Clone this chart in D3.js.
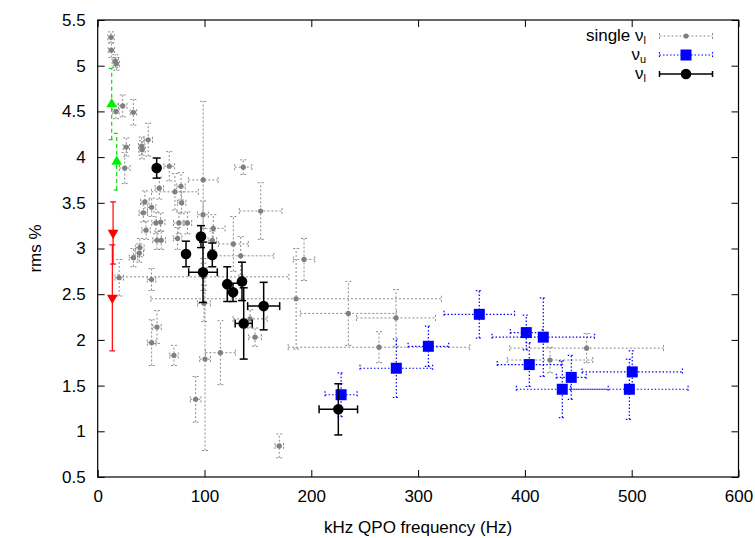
<!DOCTYPE html>
<html>
<head>
<meta charset="utf-8">
<title></title>
<style>
    body { margin: 0; background: #fff; }
    text { font-family: 'Liberation Sans', Arial, sans-serif; }
</style>
</head>
<body>
<div id="container"></div>

<script src="https://d3js.org/d3.v7.min.js" type="text/javascript"></script>
<script type="text/javascript">
    // [frequency Hz, rms %, freq error, rms error]
    const singleL = [
        [12.5, 5.31, 3, 0.06], [12.8, 5.17, 3, 0.08], [16.5, 5.05, 3, 0.07], [17.5, 5.02, 3, 0.07],
        [23.4, 4.56, 4, 0.12], [17.1, 4.50, 3, 0.08], [33.4, 4.49, 3, 0.14], [47.3, 4.19, 4, 0.18],
        [41.2, 4.12, 3, 0.10], [41.5, 4.08, 3, 0.10], [26.8, 4.11, 3, 0.10], [25.3, 3.88, 5, 0.17],
        [67.0, 3.90, 5, 0.16], [98.8, 3.75, 14, 0.86], [136.3, 3.89, 8, 0.08], [78.0, 3.68, 4, 0.15],
        [57.7, 3.66, 4, 0.12], [72.3, 3.62, 22, 0.20], [152.6, 3.41, 20, 0.31], [44.2, 3.51, 4, 0.12],
        [78.6, 3.50, 4, 0.12], [50.5, 3.45, 4, 0.10], [42.7, 3.39, 4, 0.10], [98.6, 3.37, 5, 0.15],
        [59.0, 3.29, 4, 0.10], [54.6, 3.28, 4, 0.12], [76.0, 3.28, 5, 0.12], [84.0, 3.28, 4, 0.12],
        [45.3, 3.20, 4, 0.10], [108.2, 3.22, 11, 0.15], [74.8, 3.11, 4, 0.12], [55.5, 3.09, 4, 0.10],
        [59.5, 3.09, 4, 0.10], [107.3, 3.09, 4, 0.10], [127.0, 3.05, 14, 0.30], [39.5, 3.01, 4, 0.10],
        [39.0, 2.95, 4, 0.10], [33.5, 2.90, 4, 0.10], [133.9, 2.92, 31, 0.21], [193.2, 2.88, 10, 0.23],
        [20.1, 2.68, 4, 0.20], [50.4, 2.66, 4, 0.12], [99.0, 2.69, 80, 0.15], [185.8, 2.45, 136, 0.55],
        [99.5, 2.40, 6, 0.20], [142.7, 2.23, 16, 0.10], [147.3, 2.03, 6, 0.10], [55.5, 2.14, 4, 0.18],
        [50.5, 1.97, 4, 0.25], [71.4, 1.83, 4, 0.11], [91.7, 1.35, 5, 0.25], [100.5, 1.79, 5, 1.0],
        [114.9, 1.86, 14, 0.35], [170.0, 0.84, 4, 0.13], [234.7, 2.29, 45, 0.35], [279.3, 2.24, 37, 0.31],
        [263.4, 1.92, 85, 0.17], [457.8, 1.91, 72, 0.16], [423.5, 1.78, 40, 0.14]
    ];
    const nuU = [
        [227.9, 1.40, 15, 0.24], [279.6, 1.69, 34, 0.32], [309.6, 1.93, 19, 0.22], [357.3, 2.28, 33, 0.26],
        [401.3, 2.08, 15, 0.19], [417.2, 2.03, 48, 0.43], [404.1, 1.73, 30, 0.24], [443.4, 1.59, 14, 0.24],
        [435.0, 1.46, 43, 0.31], [500.5, 1.65, 47, 0.23], [497.8, 1.46, 55, 0.33]
    ];
    const nuL = [
        [55.2, 3.88, 0, 0.11], [82.7, 2.94, 0, 0.14], [96.7, 3.13, 0, 0.12], [98.6, 2.74, 13.4, 0.33],
        [107.3, 2.93, 0, 0.13], [121.3, 2.61, 0, 0.19], [126.7, 2.52, 0, 0.10], [135.1, 2.64, 0, 0.21],
        [136.7, 2.18, 8, 0.39], [155.4, 2.37, 15, 0.26], [225.3, 1.24, 18, 0.28]
    ];
    // [frequency Hz, rms %, rms error]
    const greenUp = [[13.1, 4.58, 0.39], [17.8, 3.95, 0.31]];
    const redDown = [[14.4, 3.17, 0.34], [13.7, 2.46, 0.58]];

    const xTicks = [0, 100, 200, 300, 400, 500, 600];
    const yTicks = [0.5, 1, 1.5, 2, 2.5, 3, 3.5, 4, 4.5, 5, 5.5];

    let w = 755;
    let h = 538;
    const margin = { top: 20, left: 97.7, right: 16.5, bottom: 61 };

    const svg = d3.select('#container')
        .append('svg')
        .attr('width', w)
        .attr('height', h);

    const x = d3.scaleLinear().domain([0, 600]).range([margin.left, w - margin.right]);
    const y = d3.scaleLinear().domain([0.5, 5.5]).range([h - margin.bottom, margin.top]);

    function styleAxis(g) {
        g.select('.domain').remove();
        g.attr('font-size', 17).attr('font-family', "'Liberation Sans', Arial, sans-serif");
        g.selectAll('.tick line').attr('stroke', '#000').attr('stroke-width', 1);
        g.selectAll('.tick text').attr('fill', '#000');
    }

    svg.append('g')
        .attr('transform', `translate(0, ${y(0.5)})`)
        .call(d3.axisBottom(x).tickValues(xTicks).tickSizeInner(-7).tickSizeOuter(0).tickPadding(13))
        .call(styleAxis);
    svg.append('g')
        .attr('transform', `translate(0, ${y(5.5)})`)
        .call(d3.axisTop(x).tickValues(xTicks).tickSizeInner(-7).tickSizeOuter(0).tickFormat(''))
        .call(styleAxis);
    svg.append('g')
        .attr('transform', `translate(${x(0)}, 0)`)
        .call(d3.axisLeft(y).tickValues(yTicks).tickSizeInner(-7).tickSizeOuter(0).tickPadding(12).tickFormat(d => String(d)))
        .call(styleAxis);
    svg.append('g')
        .attr('transform', `translate(${x(600)}, 0)`)
        .call(d3.axisRight(y).tickValues(yTicks).tickSizeInner(-7).tickSizeOuter(0).tickFormat(''))
        .call(styleAxis);

    svg.append('rect')
        .attr('x', x(0)).attr('y', y(5.5))
        .attr('width', x(600) - x(0)).attr('height', y(0.5) - y(5.5))
        .attr('fill', 'none').attr('stroke', '#000').attr('stroke-width', 1.2);

    // axis titles
    svg.append('text')
        .attr('x', (x(0) + x(600)) / 2).attr('y', 533)
        .attr('text-anchor', 'middle').attr('font-size', 17)
        .text('kHz QPO frequency (Hz)');
    svg.append('text')
        .attr('transform', `translate(41, ${(y(0.5) + y(5.5)) / 2}) rotate(-90)`)
        .attr('text-anchor', 'middle').attr('font-size', 17)
        .text('rms %');

    // turn points into error-bar segments
    function segments(data, cap) {
        let segs = [];
        data.forEach(d => {
            let px = x(d[0]), py = y(d[1]);
            if (d[3] > 0) {
                let y1 = y(d[1] - d[3]), y2 = y(d[1] + d[3]);
                segs.push([px, y1, px, y2], [px - cap, y1, px + cap, y1], [px - cap, y2, px + cap, y2]);
            }
            if (d[2] > 0) {
                let x1 = x(d[0] - d[2]), x2 = x(d[0] + d[2]);
                segs.push([x1, py, x2, py], [x1, py - cap, x1, py + cap], [x2, py - cap, x2, py + cap]);
            }
        });
        return segs;
    }

    function drawSegs(g, segs, color, width, dash) {
        g.selectAll(null)
            .data(segs)
            .join('line')
            .attr('x1', s => s[0]).attr('y1', s => s[1])
            .attr('x2', s => s[2]).attr('y2', s => s[3])
            .attr('stroke', color)
            .attr('stroke-width', width)
            .attr('stroke-dasharray', dash);
    }

    const main = svg.append('g');

    // single nu_l (grey)
    drawSegs(main.append('g'), segments(singleL, 3), '#8a8a8a', 1, '2,2');
    main.append('g').selectAll('circle')
        .data(singleL)
        .join('circle')
        .attr('cx', d => x(d[0])).attr('cy', d => y(d[1]))
        .attr('r', 2.6).attr('fill', '#808080');

    // green upward triangles
    const gUp = main.append('g');
    drawSegs(gUp, segments(greenUp.map(d => [d[0], d[1], 0, d[2]]), 3), '#00e000', 1.2, '4,3');
    gUp.selectAll('path')
        .data(greenUp)
        .join('path')
        .attr('d', d3.symbol(d3.symbolTriangle, 50))
        .attr('transform', d => `translate(${x(d[0])}, ${y(d[1])})`)
        .attr('fill', '#00ee00');

    // red downward triangles
    const rDown = main.append('g');
    drawSegs(rDown, segments(redDown.map(d => [d[0], d[1], 0, d[2]]), 3), '#ff0000', 1.2, null);
    rDown.selectAll('path')
        .data(redDown)
        .join('path')
        .attr('d', d3.symbol(d3.symbolTriangle, 50))
        .attr('transform', d => `translate(${x(d[0])}, ${y(d[1])}) rotate(180)`)
        .attr('fill', '#ff0000');

    // nu_u (blue squares)
    drawSegs(main.append('g'), segments(nuU, 3.5), '#0000ff', 1.2, '1.5,2');
    main.append('g').selectAll('rect')
        .data(nuU)
        .join('rect')
        .attr('x', d => x(d[0]) - 5.5).attr('y', d => y(d[1]) - 5.5)
        .attr('width', 11).attr('height', 11)
        .attr('fill', '#0000ff');

    // nu_l (black circles)
    drawSegs(main.append('g'), segments(nuL, 4), '#000', 1.5, null);
    main.append('g').selectAll('circle')
        .data(nuL)
        .join('circle')
        .attr('cx', d => x(d[0])).attr('cy', d => y(d[1]))
        .attr('r', 5.3).attr('fill', '#000');

    // legend
    const legend = svg.append('g');
    const rows = [
        { main: 'single \u03bd', sub: 'l', y: 36, color: '#8a8a8a', dash: '2,2', width: 1, mark: 'dot' },
        { main: '\u03bd', sub: 'u', y: 55, color: '#0000ff', dash: '1.5,2', width: 1.2, mark: 'square' },
        { main: '\u03bd', sub: 'l', y: 74, color: '#000', dash: null, width: 1.5, mark: 'circle' }
    ];
    rows.forEach(r => {
        let t = legend.append('text')
            .attr('x', 646).attr('y', r.y + 5)
            .attr('text-anchor', 'end').attr('font-size', 17);
        t.append('tspan').text(r.main);
        t.append('tspan').attr('dy', 3).attr('font-size', 11).text(r.sub);

        drawSegs(legend.append('g'), [[659.5, r.y, 712.5, r.y], [659.5, r.y - 3, 659.5, r.y + 3], [712.5, r.y - 3, 712.5, r.y + 3]],
            r.color, r.width, r.dash);
        if (r.mark === 'dot') {
            legend.append('circle').attr('cx', 686).attr('cy', r.y).attr('r', 2.6).attr('fill', '#808080');
        } else if (r.mark === 'square') {
            legend.append('rect').attr('x', 680.5).attr('y', r.y - 5.5).attr('width', 11).attr('height', 11).attr('fill', '#0000ff');
        } else {
            legend.append('circle').attr('cx', 686).attr('cy', r.y).attr('r', 5.3).attr('fill', '#000');
        }
    });
</script>

</body>
</html>
